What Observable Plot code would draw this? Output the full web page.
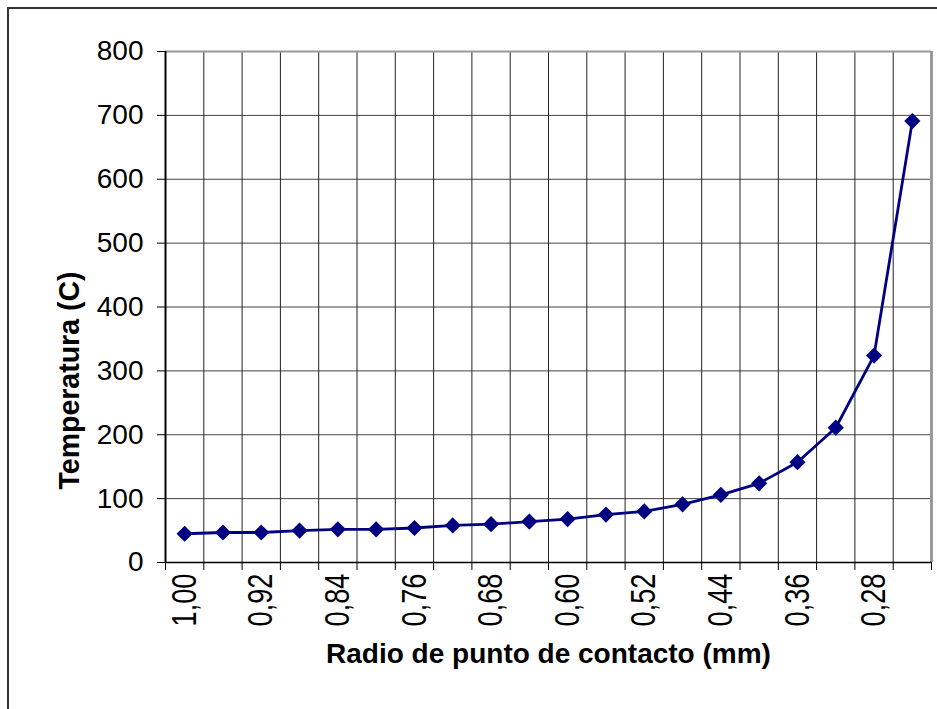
<!DOCTYPE html>
<html>
<head>
<meta charset="utf-8">
<script src="https://cdn.jsdelivr.net/npm/d3@7"></script>
<script src="https://cdn.jsdelivr.net/npm/@observablehq/plot@0.6"></script>
<style>
  html, body { margin: 0; padding: 0; background: #fff; overflow: hidden; }
  #wrap { position: relative; width: 937px; height: 709px; overflow: hidden; background: #fff; }
  #frame { position: absolute; left: 7px; top: 7px; width: 1000px; height: 1000px; border: 2.5px solid #333; box-sizing: border-box; pointer-events: none; }
  #chart { position: absolute; left: 0; top: 0; }
</style>
</head>
<body>
<div id="wrap"><div id="chart"></div><div id="frame"></div></div>
<script>
// Radio de punto de contacto (mm), category labels
const radio = ["1,00","0,96","0,92","0,88","0,84","0,80","0,76","0,72","0,68","0,64",
               "0,60","0,56","0,52","0,48","0,44","0,40","0,36","0,32","0,28","0,24"];
// Temperatura (C)
const temperatura = [45,47,47,50,52,52,54,58,60,64,68,75,80,91,106,124,157,211,324,691];
// Y tick values
const yTicks = [0,100,200,300,400,500,600,700,800];
// Shown x tick labels (every other category)
const shownLabels = ["1,00","0,92","0,84","0,76","0,68","0,60","0,52","0,44","0,36","0,28"];

const xTitle = "Radio de punto de contacto (mm)";
const yTitle = "Temperatura (C)";

const data = radio.map((r, i) => ({i, r, t: temperatura[i]}));
const bounds = d3.range(radio.length + 1).map(k => k - 0.5);
const labelIdx = shownLabels.map(l => radio.indexOf(l));

const chart = Plot.plot({
  width: 937,
  height: 709,
  marginLeft: 165,
  marginRight: 6,
  marginTop: 51,
  marginBottom: 147,
  style: {fontFamily: "'Liberation Sans', Arial, sans-serif", background: "white", color: "black"},
  x: {domain: [-0.5, radio.length - 0.5], axis: null},
  y: {domain: [0, 800], axis: null},
  marks: [
    Plot.ruleY(yTicks.filter(v => v > 0 && v < 800), {stroke: "#444", strokeWidth: 1}),
    Plot.ruleX(bounds.slice(1, -1), {stroke: "#222", strokeWidth: 1}),
    Plot.ruleY([800], {stroke: "#999", strokeWidth: 2}),
    Plot.ruleX([radio.length - 0.5], {stroke: "#999", strokeWidth: 3}),
    Plot.ruleX([-0.5], {stroke: "#000", strokeWidth: 2}),
    Plot.ruleY([0], {stroke: "#000", strokeWidth: 1.5}),
    Plot.axisY({ticks: yTicks, tickSize: 8, tickPadding: 14, label: null, tickFormat: d => String(d)}),
    Plot.axisX({ticks: bounds, tickSize: 8, label: null, tickFormat: () => ""}),
    Plot.axisX({ticks: labelIdx, tickSize: 0, tickPadding: 11, tickRotate: -90, label: null, tickFormat: i => radio[i]}),
    Plot.line(data, {x: "i", y: "t", stroke: "#000080", strokeWidth: 2.8}),
    Plot.dot(data, {x: "i", y: "t", symbol: "diamond2", r: 7.3, fill: "#000080", stroke: "none"}),
    Plot.text([xTitle], {text: d => d, frameAnchor: "bottom", textAnchor: "middle", lineAnchor: "middle", dy: 92, fontSize: 28, fontWeight: "bold"}),
    Plot.text([yTitle], {text: d => d, frameAnchor: "left", textAnchor: "middle", lineAnchor: "middle", rotate: -90, dx: -96, dy: 73.5, fontSize: 30, fontWeight: "bold"})
  ]
});

document.getElementById("chart").appendChild(chart);

const svg = d3.select(chart);
svg.selectAll("text").filter(function() { return radio.includes(this.textContent); })
  .style("font-size", "35px")
  .attr("textLength", 53).attr("lengthAdjust", "spacingAndGlyphs");
svg.selectAll("text").filter(function() { return yTicks.map(String).includes(this.textContent); })
  .style("font-size", "28px");
svg.selectAll("text").filter(function() { return this.textContent === yTitle; })
  .attr("textLength", 218).attr("lengthAdjust", "spacingAndGlyphs");
</script>
</body>
</html>
